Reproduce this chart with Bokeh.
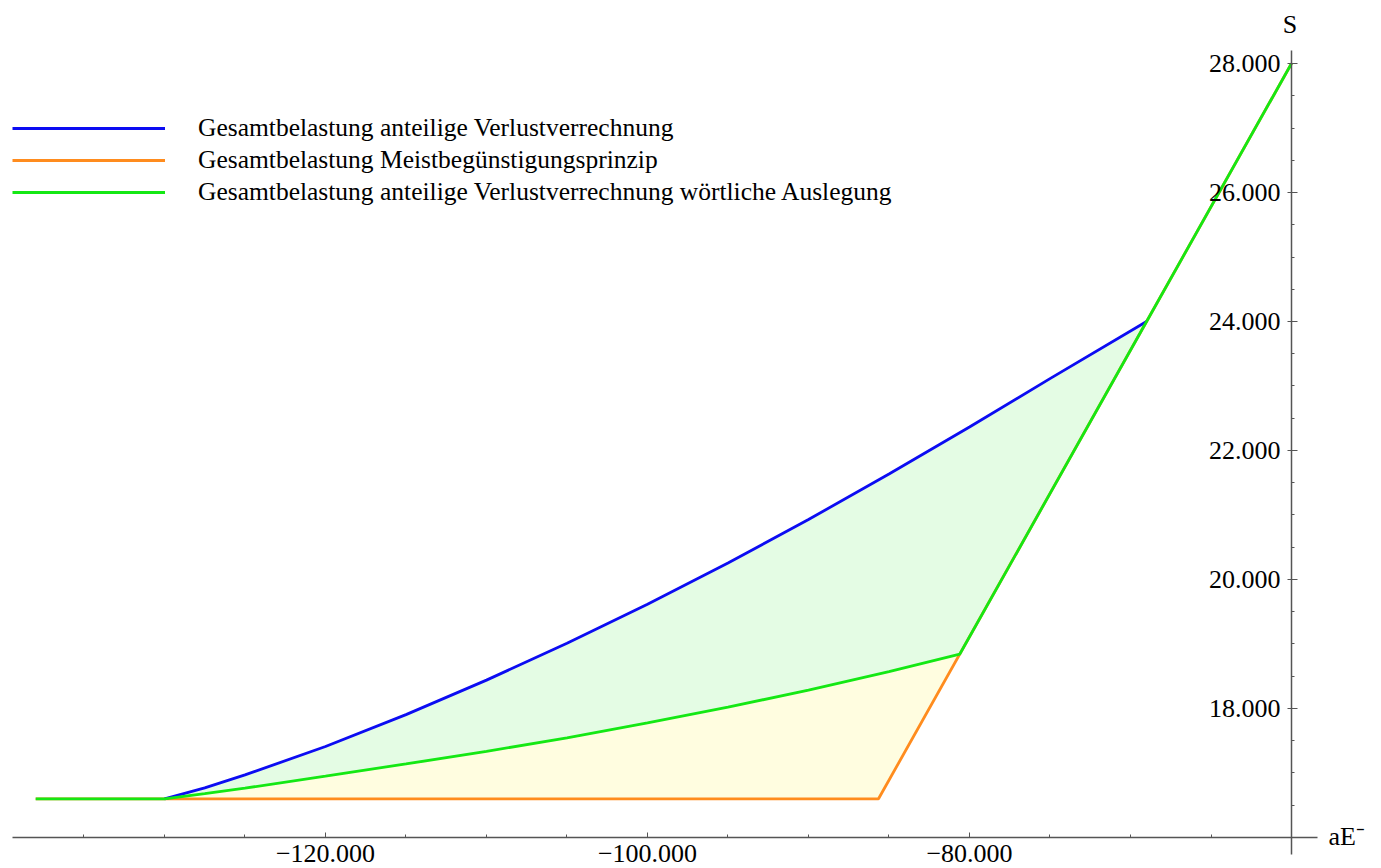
from bokeh.plotting import figure
from bokeh.models import Range1d, FixedTicker, Legend, LegendItem, Label
from bokeh.embed import file_html
from bokeh.resources import INLINE

# --- data ---
blue_x = [-130000, -127500, -125000, -120000, -115000, -110000, -105000, -100000,
          -95000, -90000, -85000, -80000, -75000, -69000]
blue_y = [16600, 16770, 16970, 17410, 17905, 18440, 19010, 19615,
          20255, 20930, 21635, 22365, 23115, 24000]

green_x = [-138000, -130000, -127500, -125000, -120000, -115000, -110000, -105000,
           -100000, -95000, -90000, -85000, -80600, -69000, -60000]
green_y = [16600, 16600, 16680, 16765, 16950, 17140, 17335, 17545,
           17775, 18020, 18285, 18570, 18844, 24000, 28000]

orange_x = [-138000, -85650, -60000]
orange_y = [16600, 16600, 28000]

x_major = [-120000, -100000, -80000]
x_labels = ["\u2212120.000", "\u2212100.000", "\u221280.000"]
x_minor = list(range(-135000, -59999, 5000))
y_major = [18000, 20000, 22000, 24000, 26000, 28000]
y_labels = ["18.000", "20.000", "22.000", "24.000", "26.000", "28.000"]
y_minor = list(range(16500, 28001, 500))

series_names = ["Gesamtbelastung anteilige Verlustverrechnung",
                "Gesamtbelastung Meistbegünstigungsprinzip",
                "Gesamtbelastung anteilige Verlustverrechnung wörtliche Auslegung"]

BLUE = "#0c0cf2"
ORANGE = "#ff8c1e"
GREEN = "#14e814"
FONT = "Liberation Serif"

p = figure(width=1381, height=868, output_backend="svg", toolbar_location=None,
           x_range=Range1d(-140186, -54410), y_range=Range1d(15519, 28977),
           min_border=0, outline_line_color=None)
p.xgrid.visible = False
p.ygrid.visible = False
p.background_fill_color = "white"

# fills
gi = [i for i, x in enumerate(green_x) if -130000 <= x <= -69000]
poly_gx = blue_x + [green_x[i] for i in reversed(gi)]
poly_gy = blue_y + [green_y[i] for i in reversed(gi)]
p.patch(poly_gx, poly_gy, fill_color="#e4fce4", line_color=None)

gi2 = [i for i, x in enumerate(green_x) if -130000 <= x <= -80600]
poly_yx = [-130000, orange_x[1]] + [green_x[i] for i in reversed(gi2)]
poly_yy = [orange_y[0], orange_y[1]] + [green_y[i] for i in reversed(gi2)]
p.patch(poly_yx, poly_yy, fill_color="#fffde0", line_color=None)

r_or = p.line(orange_x, orange_y, line_color=ORANGE, line_width=2.8)
r_bl = p.line(blue_x, blue_y, line_color=BLUE, line_width=2.8)
r_gr = p.line(green_x, green_y, line_color=GREEN, line_width=2.8)

xa = p.xaxis[0]
xa.fixed_location = 16000
xa.ticker = FixedTicker(ticks=x_major, minor_ticks=x_minor)
xa.major_label_overrides = dict(zip(x_major, x_labels))
xa.bounds = (-139441, -58385)
ya = p.yaxis[0]
ya.fixed_location = -60000
ya.ticker = FixedTicker(ticks=y_major, minor_ticks=y_minor)
ya.major_label_overrides = dict(zip(y_major, y_labels))
ya.bounds = (15738, 28207)

for ax in (xa, ya):
    ax.axis_line_color = "#555555"
    ax.axis_line_width = 1.5
    ax.major_tick_line_color = "#555555"
    ax.minor_tick_line_color = "#555555"
    ax.major_label_text_font = FONT
    ax.major_label_text_font_size = "26px"
    ax.major_label_text_color = "black"
xa.major_tick_in = 5
xa.major_tick_out = 0
xa.minor_tick_in = 3
xa.minor_tick_out = 0
xa.major_label_standoff = 8
ya.major_tick_in = 6
ya.major_tick_out = 4
ya.minor_tick_in = 3
ya.minor_tick_out = 0
ya.major_label_standoff = 7
ya.major_label_orientation = "horizontal"

p.add_layout(Label(x=-60100, y=28612, text="S", text_font=FONT, text_font_size="26px",
                   text_align="center", text_baseline="middle", text_color="black"))
p.add_layout(Label(x=-57702, y=16015, text="aE\u207b", text_font=FONT, text_font_size="26px",
                   text_align="left", text_baseline="middle", text_color="black"))

legend = Legend(items=[LegendItem(label=series_names[0], renderers=[r_bl]),
                       LegendItem(label=series_names[1], renderers=[r_or]),
                       LegendItem(label=series_names[2], renderers=[r_gr])],
                location=(12, 660), glyph_width=153, glyph_height=32, label_height=32,
                label_standoff=33, spacing=0, padding=0, margin=0,
                border_line_color=None, background_fill_alpha=0,
                label_text_font=FONT, label_text_font_size="25.5px", label_text_color="black")
p.add_layout(legend)

open("out.html", "w").write(file_html(p, INLINE))
